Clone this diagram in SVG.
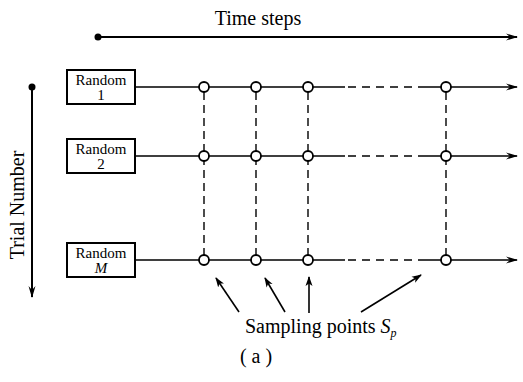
<svg xmlns="http://www.w3.org/2000/svg" width="523" height="382" viewBox="0 0 523 382" font-family="'Liberation Serif', 'Times New Roman', 'DejaVu Serif', serif">
<defs>
<marker id="ah" viewBox="0 0 12 8" refX="11" refY="4" markerWidth="12" markerHeight="8" markerUnits="userSpaceOnUse" orient="auto">
<path d="M0,0.5 L12,4 L0,7.5 L4,4 z" fill="#000"/>
</marker>
<marker id="ah2" viewBox="0 0 10 8" refX="9" refY="4" markerWidth="10" markerHeight="8" markerUnits="userSpaceOnUse" orient="auto">
<path d="M0,0.5 L10,4 L0,7.5 L2.5,4 z" fill="#000"/>
</marker>
</defs>
<style>
text{font-family:'Liberation Serif','Times New Roman','DejaVu Serif',serif;fill:#000}
.lbl{font-size:20px}
.box{fill:#fff;stroke:#000;stroke-width:2}
.bt{font-size:15px;text-anchor:middle}
.row{stroke:#000;stroke-width:1.6;fill:none}
.dash{stroke:#000;stroke-width:1.6;stroke-dasharray:8 6;fill:none}
.vd{stroke:#000;stroke-width:1.4;stroke-dasharray:8 5;fill:none}
.pt{fill:#fff;stroke:#000;stroke-width:1.8}
.ar{stroke:#000;stroke-width:1.6;fill:none;marker-end:url(#ah2)}
</style>
<rect width="523" height="382" fill="#fff"/>

<g id="time-axis">
<text class="lbl" x="258" y="25" text-anchor="middle">Time steps</text>
<circle cx="98" cy="37" r="3.5" fill="#000"/>
<line x1="98" y1="37" x2="517" y2="37" stroke="#000" stroke-width="2" marker-end="url(#ah)"/>
</g>

<g id="trial-axis">
<circle cx="32" cy="87" r="3.5" fill="#000"/>
<line x1="32" y1="87" x2="32" y2="297" stroke="#000" stroke-width="2" marker-end="url(#ah)"/>
<text class="lbl" transform="translate(24,205) rotate(-90)" text-anchor="middle">Trial Number</text>
</g>

<g id="connectors">
<g id="rows">
<path class="row" d="M135,87 H441 M451,87 H517" marker-end="url(#ah)"/>
<path class="row" d="M135,156 H441 M451,156 H517" marker-end="url(#ah)"/>
<path class="row" d="M135,260 H441 M451,260 H517" marker-end="url(#ah)"/>
</g>
<g fill="#fff" stroke="none">
<rect x="345" y="83" width="73" height="8"/>
<rect x="345" y="152" width="73" height="8"/>
<rect x="345" y="256" width="73" height="8"/>
</g>
<path class="dash" d="M348,87 H418 M348,156 H418 M348,260 H418"/>
<g id="verticals">
<path class="vd" d="M204,92 V255 M256,92 V255 M308,92 V255 M446,92 V255"/>
</g>
<g id="sample-arrows">
<line class="ar" x1="239" y1="312" x2="216" y2="278"/>
<line class="ar" x1="285" y1="312" x2="265" y2="278"/>
<line class="ar" x1="309" y1="313" x2="309" y2="277"/>
<line class="ar" x1="361" y1="312" x2="421" y2="275"/>
</g>
</g>

<g id="points">
<circle class="pt" cx="204" cy="87" r="5"/><circle class="pt" cx="256" cy="87" r="5"/><circle class="pt" cx="308" cy="87" r="5"/><circle class="pt" cx="446" cy="87" r="5"/>
<circle class="pt" cx="204" cy="156" r="5"/><circle class="pt" cx="256" cy="156" r="5"/><circle class="pt" cx="308" cy="156" r="5"/><circle class="pt" cx="446" cy="156" r="5"/>
<circle class="pt" cx="204" cy="260" r="5"/><circle class="pt" cx="256" cy="260" r="5"/><circle class="pt" cx="308" cy="260" r="5"/><circle class="pt" cx="446" cy="260" r="5"/>
</g>

<g id="random-1">
<rect class="box" x="67" y="70" width="68" height="34"/>
<text class="bt" x="101" y="85">Random</text>
<text class="bt" x="101" y="100" font-size="13">1</text>
</g>
<g id="random-2">
<rect class="box" x="67" y="139" width="68" height="34"/>
<text class="bt" x="101" y="154">Random</text>
<text class="bt" x="101" y="169" font-size="13">2</text>
</g>
<g id="random-m">
<rect class="box" x="67" y="243" width="68" height="34"/>
<text class="bt" x="101" y="258">Random</text>
<text class="bt" x="101" y="273" font-size="13" font-style="italic">M</text>
</g>

<g id="caption">
<text class="lbl" x="245" y="333">Sampling points <tspan font-style="italic">S</tspan><tspan font-size="12" font-style="italic" dy="4">p</tspan></text>
<text class="lbl" x="256" y="363" text-anchor="middle" font-size="17">( a )</text>
</g>
</svg>
